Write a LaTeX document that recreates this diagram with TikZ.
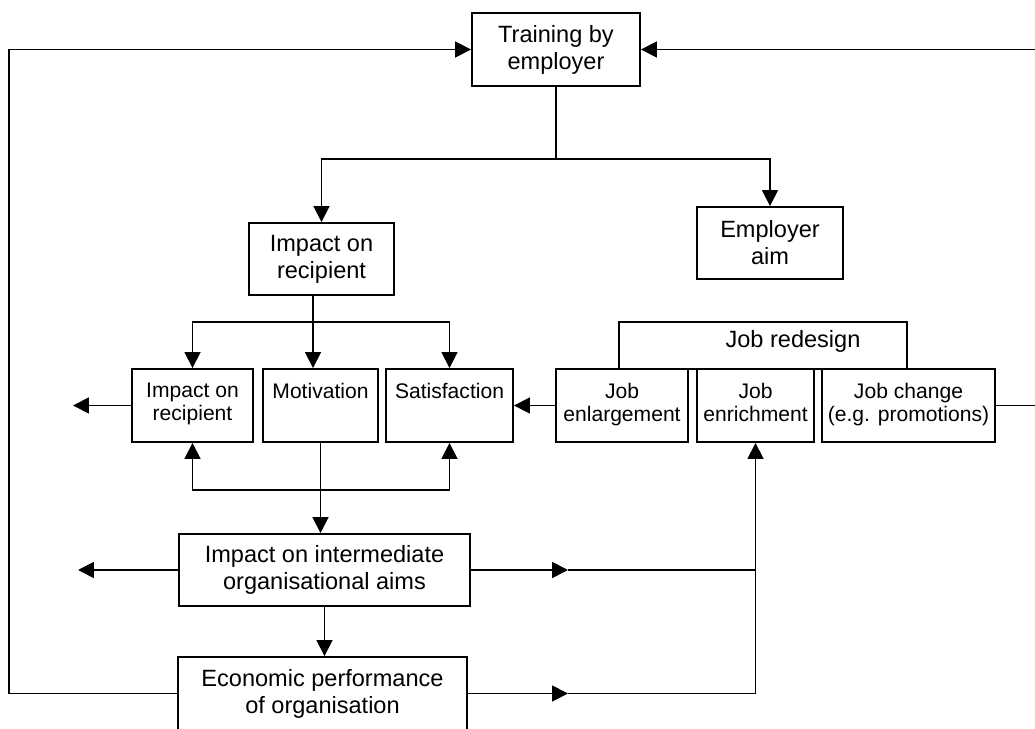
\documentclass[tikz,border=0pt]{standalone}
\usepackage{fontspec}
\setmainfont{Liberation Sans}
\usetikzlibrary{arrows.meta}
\begin{document}
\begin{tikzpicture}[x=0.02cm, y=-0.02cm, line width=1pt,
    bigbox/.style={draw, line width=1.1pt, align=center, inner sep=0pt, font=\fontsize{13.4}{15.3}\selectfont},
    smallbox/.style={draw, line width=1.1pt, align=center, inner sep=0pt, minimum height=1.46cm, font=\fontsize{12}{13}\selectfont},
    arr/.style={-{Triangle[length=9pt,width=9pt]}}]
    \useasboundingbox (0,0) rectangle (1035,729);
    \node[bigbox, minimum width=3.36cm, minimum height=1.46cm] (train) at (556,49.5) {Training by\\employer};
    \node[bigbox, minimum width=2.9cm, minimum height=1.44cm] (imp) at (321.5,259) {Impact on\\recipient};
    \node[bigbox, minimum width=2.92cm, minimum height=1.44cm] (aim) at (770,243) {Employer\\aim};
    \node[smallbox, minimum width=2.42cm] (recip) at (192.5,405.5) {Impact on\\recipient\strut};
    \node[smallbox, minimum width=2.3cm] (motiv) at (320.5,405.5) {Motivation\\\strut};
    \node[smallbox, minimum width=2.54cm] (satis) at (449.5,405.5) {Satisfaction\\\strut};
    \node[bigbox, minimum width=5.76cm, minimum height=0.94cm] (redesign) at (763,345.5) {};
    \node[inner sep=0pt, font=\fontsize{13.4}{15.3}\selectfont] (redesigntxt) at (793,341) {Job redesign};
    \node[smallbox, minimum width=2.64cm] (enlarge) at (622,405.5) {Job\\enlargement\strut};
    \node[smallbox, minimum width=2.34cm] (enrich) at (755.5,405.5) {Job\\enrichment\strut};
    \node[smallbox, minimum width=3.46cm] (change) at (908.5,405.5) {Job change\\(e.g. promotions)\strut};
    \node[bigbox, minimum width=5.82cm, minimum height=1.44cm] (inter) at (324.5,570) {Impact on intermediate\\organisational aims};
    \node[bigbox, minimum width=5.78cm, minimum height=1.46cm] (econ) at (322.5,693.5) {Economic performance\\of organisation};

    \coordinate (split) at (556,159);
    \coordinate (fork) at (313,322);
    \coordinate (hub) at (321,490);
    \coordinate (tip) at (568,0);
    \coordinate (lout1) at (73,405.5);
    \coordinate (lout2) at (78,570);
    \coordinate (lfar) at (9,0);
    \coordinate (rfar) at (1040,405.5);

    \draw (train.south) -- (split);
    \draw[arr] (split) -| (imp.north);
    \draw[arr] (split) -| (aim.north);
    \draw[arr] (imp.south -| fork) -- (motiv.north -| fork);
    \draw[arr] (fork) -| (recip.north);
    \draw[arr] (fork) -| (satis.north);
    \draw[arr] (recip.west) -- (lout1);
    \draw[arr] (enlarge.west) -- (satis.east);
    \draw[arr] (hub) -| (recip.south);
    \draw[arr] (hub) -| (satis.south);
    \draw[arr] (motiv.south) -- (motiv.south |- inter.north);
    \draw[arr] (inter.west) -- (lout2);
    \draw[arr] (inter.south) -- (inter.south |- econ.north);
    \draw[arr] (inter.east) -- (inter.east -| tip);
    \draw (inter.east -| tip) -- (inter.east -| enrich.south);
    \draw[arr] (econ.east) -- (econ.east -| tip);
    \draw[arr] (econ.east -| tip) -| (enrich.south);
    \draw[arr] (econ.west) -- (lfar |- econ.west) |- (train.west);
    \draw[arr] (change.east) -- (rfar) |- (train.east);
\end{tikzpicture}
\end{document}
